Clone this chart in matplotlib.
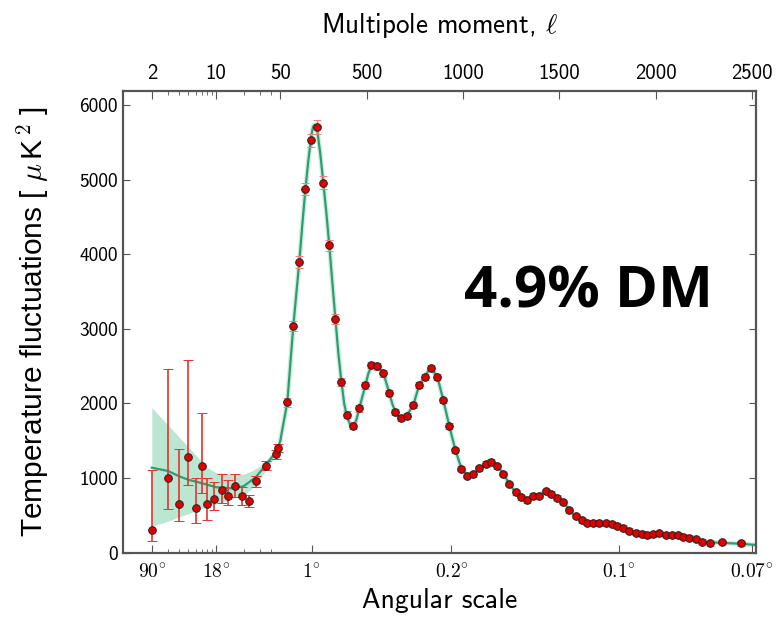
import numpy as np
import matplotlib
matplotlib.use("Agg")
import matplotlib.pyplot as plt

plt.rcParams['mathtext.fontset'] = 'cm'
plt.rcParams['font.family'] = ['cmss10', 'DejaVu Sans']
plt.rcParams['axes.unicode_minus'] = False

# low-l points (individual multipoles / log bins)
ell_lo = [2, 3, 4, 5, 6, 7, 8, 9.5, 11.5, 13.5, 16, 19, 22.5, 27, 34.5, 44.5, 47]
dl_lo = [305, 1003, 644, 1284, 600, 1164, 644, 716, 837, 761, 895, 761, 685, 953, 1164, 1315, 1405]
err_lo_minus = [157, 426, 228, 380, 211, 372, 210, 148, 170, 121, 153, 121, 77, 70, 60, 55, 55]
err_lo_plus = [795, 1453, 739, 1293, 397, 706, 353, 226, 219, 205, 152, 116, 80, 75, 65, 55, 55]

# high-l binned points (delta l ~ 31)
ell_hi = [86, 117, 148, 180, 211, 242, 273, 304, 336, 367, 398, 429, 460, 492, 523, 554,
          585, 616, 648, 679, 710, 741, 772, 804, 835, 866, 897, 928, 960, 991, 1022, 1053,
          1084, 1116, 1147, 1178, 1209, 1240, 1272, 1303, 1334, 1365, 1396, 1428, 1459, 1490,
          1521, 1552, 1584, 1615, 1646, 1677, 1708, 1740, 1771, 1802, 1833, 1864, 1896, 1927,
          1958, 1989, 2020, 2052, 2083, 2114, 2145, 2176, 2208, 2243, 2283, 2347, 2442]
dl_hi = [2017, 3034, 3893, 4872, 5526, 5709, 4957, 4121, 3128, 2290, 1848, 1700, 1933, 2242,
         2514, 2497, 2403, 2135, 1880, 1800, 1830, 1974, 2250, 2353, 2474, 2353, 2041, 1696,
         1368, 1126, 1032, 1048, 1131, 1187, 1220, 1155, 1055, 920, 807, 740, 700, 762, 762,
         821, 789, 735, 677, 566, 489, 432, 400, 400, 392, 392, 382, 359, 333, 292, 265, 252,
         231, 244, 257, 235, 235, 231, 212, 198, 181, 145, 123, 141, 123]
err_hi = [60, 70, 80, 85, 90, 95, 85, 75, 65, 55, 50, 45, 45, 45, 45, 45,
          45, 40, 40, 40, 40, 40, 40, 40, 40, 40, 35, 35, 35, 35, 35, 35,
          35, 35, 35, 35, 30, 30, 30, 30, 30, 30, 30, 30, 30, 30,
          30, 30, 30, 30, 30, 30, 30, 30, 30, 30, 30, 30, 30, 30,
          30, 30, 30, 30, 30, 30, 30, 30, 30, 30, 30, 30, 30]

# best-fit model curve
th_ell = [2, 3, 4, 5, 7, 10, 15, 20, 27, 35, 45, 50, 55, 65, 75,
          86, 100, 117, 133, 148, 164, 180, 195, 211, 220, 228, 236, 242, 258, 273, 289, 304,
          320, 336, 351, 367, 382, 398, 413, 429, 445, 460, 476, 492, 507, 523, 538, 554, 570,
          585, 601, 616, 632, 648, 663, 679, 694, 710, 726, 741, 757, 772, 788, 804, 830, 866,
          897, 928, 960, 991, 1022, 1053, 1084, 1116, 1147, 1178, 1209, 1240, 1272, 1303, 1334,
          1365, 1396, 1428, 1459, 1490, 1521, 1552, 1584, 1615, 1646, 1677, 1708, 1740, 1771,
          1802, 1833, 1864, 1896, 1927, 1958, 1989, 2020, 2052, 2083, 2114, 2145, 2176, 2208,
          2243, 2283, 2347, 2442, 2525]
th_dl = [1137, 1093, 1020, 975, 930, 875, 860, 890, 1010, 1180, 1350, 1500, 1580, 1720, 1860,
         2017, 2480, 3034, 3480, 3893, 4400, 4872, 5250, 5600, 5710, 5735, 5705, 5650, 5330,
         4957, 4550, 4121, 3620, 3128, 2680, 2290, 1990, 1810, 1712, 1695, 1780, 1933, 2090,
         2242, 2400, 2500, 2530, 2500, 2455, 2403, 2270, 2135, 1990, 1880, 1820, 1800, 1810,
         1850, 1915, 1974, 2120, 2250, 2310, 2370, 2485, 2353, 2041, 1696, 1368, 1126, 1032,
         1048, 1131, 1187, 1220, 1155, 1055, 920, 807, 740, 712, 755, 778, 805, 789, 735, 677,
         566, 489, 432, 405, 395, 390, 380, 360, 333, 295, 268, 252, 240, 240, 245, 240, 235,
         230, 215, 200, 182, 165, 150, 138, 128, 118, 100]

# cosmic variance band at low l
band_ell = [2, 3, 4, 5, 6, 7, 8, 10, 13, 16, 20, 25, 30, 35, 40, 45, 50]
band_hi = [1942, 1710, 1543, 1413, 1307, 1217, 1140, 1070, 1060, 1050, 1050, 1100, 1160,
           1240, 1320, 1430, 1570]
band_lo = [350, 420, 480, 520, 560, 590, 615, 650, 690, 730, 770, 870, 990, 1110, 1220,
           1330, 1460]

# top / bottom tick labels
top_ticks = [2, 10, 50, 500, 1000, 1500, 2000, 2500]
bottom_ticks = [2, 10, 213, 939, 1811, 2500]
bottom_labels = ['90', '18', '1', '0.2', '0.1', '0.07']
minor_ticks = [3, 4, 5, 6, 7, 8, 9, 20, 30, 40]

# hybrid scale: log below l=50, linear above
K = 478.2


def fwd(l):
    l = np.asarray(l, dtype=float)
    lc = np.maximum(l, 1e-3)
    return np.where(lc < 50, 50 + K * np.log10(lc / 50), lc)


def inv(u):
    u = np.asarray(u, dtype=float)
    return np.where(u < 50, 50 * 10 ** ((np.minimum(u, 50) - 50) / K), u)


W, H = 776, 628
fig = plt.figure(figsize=(W / 100, H / 100), dpi=100)
x0, x1, y0, y1 = 123.3, 756, 91, 552.5
ax = fig.add_axes([x0 / W, 1 - y1 / H, (x1 - x0) / W, (y1 - y0) / H])

green = '#2e9e72'
ax.fill_between(band_ell, band_lo, band_hi, color='#b0e2cb', lw=0, alpha=0.85, zorder=1)
ax.plot(th_ell[11:], th_dl[11:], color='#b0e2cb', lw=3.5, alpha=0.6, zorder=1.5,
        solid_capstyle='round')
ax.plot(th_ell, th_dl, color=green, lw=1.6, zorder=2)

red = '#e8322b'
ax.errorbar(ell_lo, dl_lo, yerr=[err_lo_minus, err_lo_plus], fmt='o', color=red,
            ecolor=red, elinewidth=1.2, capsize=3.5, capthick=1.0,
            markersize=5.5, markerfacecolor='#e00000', markeredgecolor='#222222',
            markeredgewidth=0.7, zorder=3)
ax.errorbar(ell_hi, dl_hi, yerr=err_hi, fmt='o', color=red, ecolor='#f08080',
            elinewidth=1.0, capsize=3, capthick=1.0,
            markersize=5.5, markerfacecolor='#e00000', markeredgecolor='#222222',
            markeredgewidth=0.7, zorder=3)

ax.set_xscale('function', functions=(fwd, inv))
ax.set_xlim(0.98, 2522)
ax.set_ylim(0, 6188)

spine_c = '#555555'
for s in ax.spines.values():
    s.set_color(spine_c)
    s.set_linewidth(1.6)

ax.set_yticks([0, 1000, 2000, 3000, 4000, 5000, 6000])
ax.set_yticklabels(['0', '1000', '2000', '3000', '4000', '5000', '6000'], fontsize=14)
ax.tick_params(axis='y', direction='in', length=5, color=spine_c, right=True, pad=4)

ax.set_xticks(bottom_ticks)
ax.set_xticklabels([r'$\mathsf{%s}^{\circ}$' % b for b in bottom_labels], fontsize=14)
ax.set_xticks(minor_ticks, minor=True)
ax.tick_params(axis='x', which='major', direction='in', length=6, color=spine_c, pad=8)
ax.tick_params(axis='x', which='minor', direction='in', length=3, color=spine_c)
ax.set_xlabel('Angular scale', fontsize=20, labelpad=4)

ax.set_ylabel(r'Temperature fluctuations [ $\mu\,$K$^{\,2}$ ]', fontsize=21.5,
              family=['Liberation Sans', 'DejaVu Sans'], labelpad=20)

axt = ax.twiny()
axt.set_xscale('function', functions=(fwd, inv))
axt.set_xlim(ax.get_xlim())
axt.set_xticks(top_ticks)
axt.set_xticklabels([str(t) for t in top_ticks], fontsize=15)
axt.set_xticks(minor_ticks, minor=True)
axt.tick_params(axis='x', which='major', direction='in', length=6, color=spine_c, pad=6)
axt.tick_params(axis='x', which='minor', direction='in', length=3, color=spine_c)
axt.set_xlabel(r'Multipole moment, $\ell$', fontsize=19.5, labelpad=22)
for s in axt.spines.values():
    s.set_visible(False)

fig.text(588 / W, 1 - 293 / H, '4.9% DM', fontsize=42, fontweight='bold',
         family=['Open Sans', 'DejaVu Sans'], ha='center', va='center')

fig.savefig('out.png', dpi=100)
